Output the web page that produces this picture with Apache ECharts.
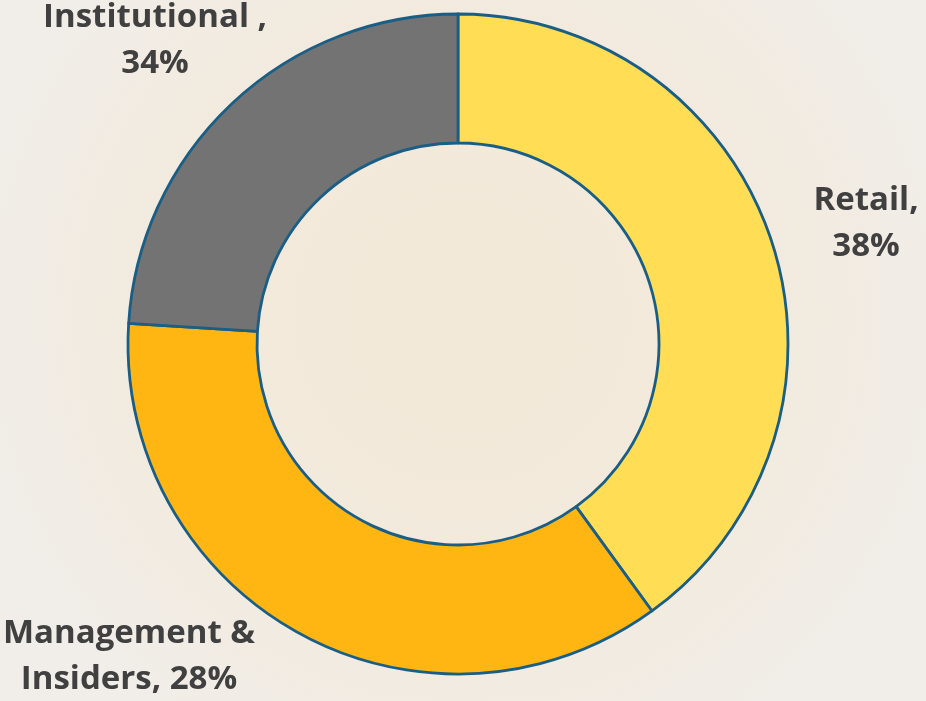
<!DOCTYPE html>
<html>
<head>
<meta charset="utf-8">
<script src="https://cdn.jsdelivr.net/npm/echarts@6/dist/echarts.min.js"></script>
<style>
html,body{margin:0;padding:0;width:926px;height:701px;overflow:hidden;}
#chart{width:926px;height:701px;}
</style>
</head>
<body>
<div id="chart"></div>
<script>
// Data (slice sizes as drawn) and label texts as printed
const categories = ['Retail', 'Management & Insiders', 'Institutional'];
const values = [40, 36, 24];
const labelTexts = ['Retail,\n38%', 'Management &\nInsiders, 28%', 'Institutional ,\n34%'];
const colors = ['#FFDD55', '#FFB612', '#737373'];

// label anchor positions (layout only)
const labelPos = [[866, 224], [129, 657], [155, 41]];

const chart = echarts.init(document.getElementById('chart'), null, {renderer: 'canvas'});
chart.setOption({
  backgroundColor: {
    type: 'radial', x: 0.5, y: 0.45, r: 0.7,
    colorStops: [
      {offset: 0, color: '#f3e9d8'},
      {offset: 0.6, color: '#f2eadd'},
      {offset: 1, color: '#f1ede8'}
    ]
  },
  animation: false,
  series: [{
    type: 'pie',
    center: [458, 344],
    radius: [201, 330],
    startAngle: 90,
    clockwise: true,
    avoidLabelOverlap: false,
    itemStyle: {borderColor: '#1A5E86', borderWidth: 2.8},
    label: {
      show: true,
      formatter: p => labelTexts[p.dataIndex],
      fontFamily: '"Open Sans", sans-serif',
      fontWeight: 'bold',
      fontSize: 33,
      lineHeight: 46,
      color: '#404040',
      align: 'center'
    },
    labelLine: {show: false},
    labelLayout: p => ({
      x: labelPos[p.dataIndex][0],
      y: labelPos[p.dataIndex][1],
      align: 'center',
      verticalAlign: 'middle'
    }),
    emphasis: {disabled: true},
    data: categories.map((c, i) => ({name: c, value: values[i], itemStyle: {color: colors[i]}}))
  }]
});
</script>
</body>
</html>
